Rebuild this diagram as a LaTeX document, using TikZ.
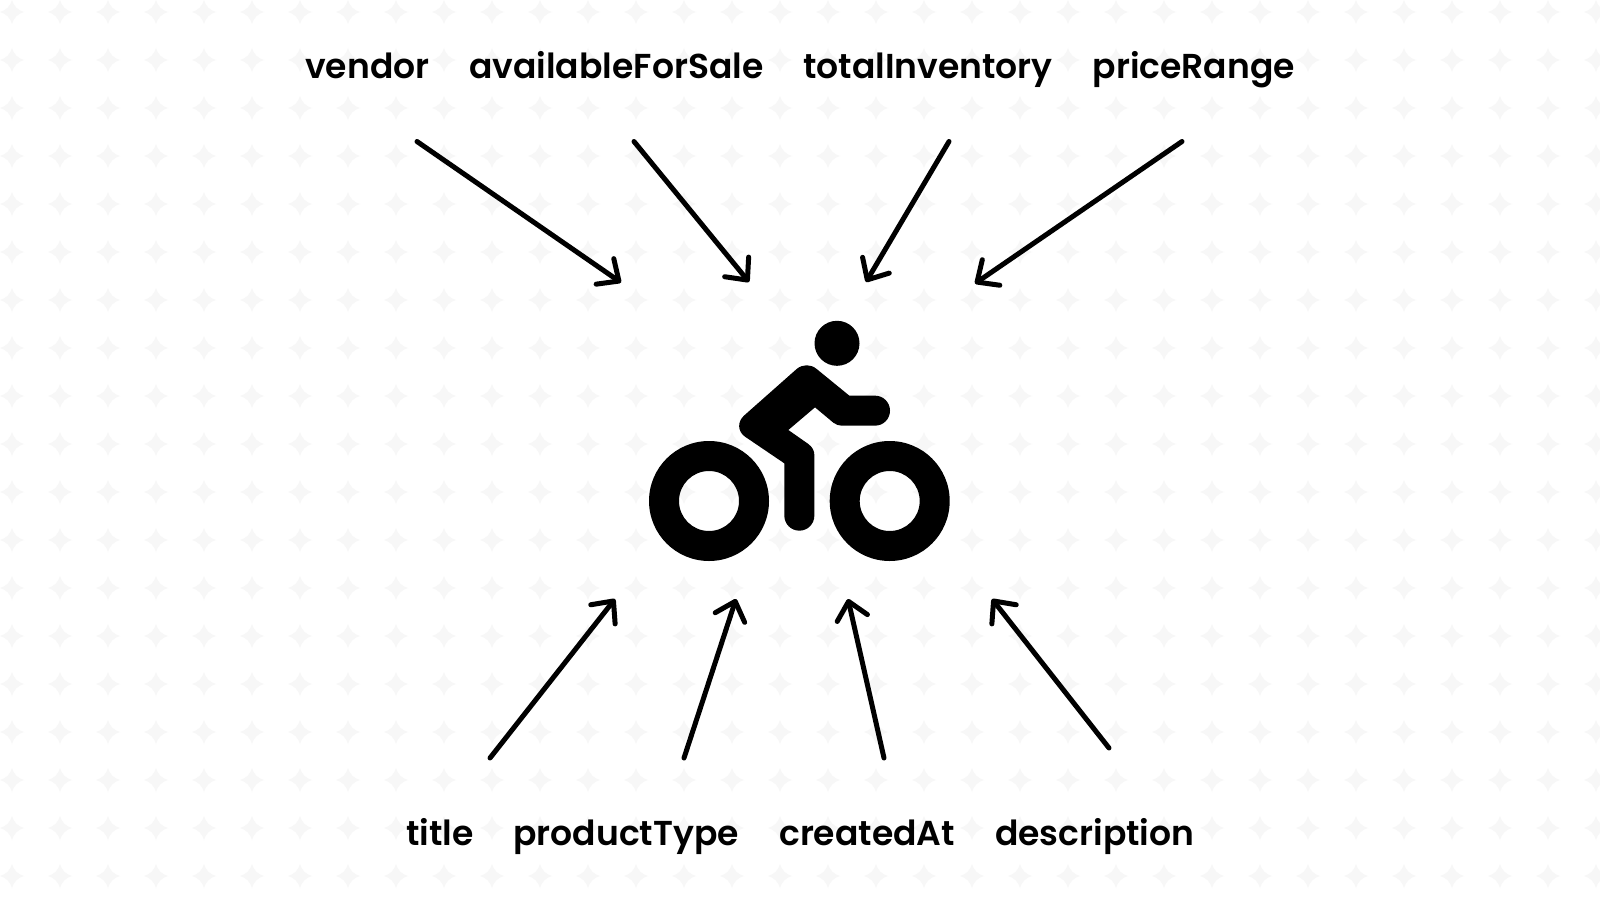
\documentclass[tikz,border=0pt]{standalone}
\usepackage{fontspec}
\setmainfont{Poppins}[BoldFont={Poppins SemiBold}]
\usetikzlibrary{arrows.meta}
\definecolor{starcol}{HTML}{F7F7F7}
\tikzset{
  lbl/.style={anchor=base west,inner sep=0pt,font=\fontsize{34.55}{36}\selectfont\bfseries,text=black},
  arr/.style={draw=black,line width=5pt,line cap=round,-{Straight Barb[round,length=17pt,width=31pt,line width=5pt]}},
  starp/.style={fill=starcol,draw=none},
  ink/.style={fill=black,draw=none}
}
\begin{document}
\begin{tikzpicture}[x=1pt,y=-1pt]
\useasboundingbox (0,0) rectangle (1600,899);
\fill[white] (0,0) rectangle (1600,899);
\foreach \i in {0,...,33}{\foreach \j in {0,...,18}{
  \path[starp,shift={(12+48*\i,12+48*\j)}] (0,-12) .. controls (2.5,-5) and (5,-2.5) .. (12,0) .. controls (5,2.5) and (2.5,5) .. (0,12) .. controls (-2.5,5) and (-5,2.5) .. (-12,0) .. controls (-5,-2.5) and (-2.5,-5) .. (0,-12) -- cycle;
}}
% labels
\node[lbl] (vendor) at (305,78.3) {vendor};
\node[lbl] (afs) at (469,78.3) {availableForSale};
\node[lbl] (ti) at (803,78.3) {totalInventory};
\node[lbl] (pr) at (1092.5,78.3) {priceRange};
\node[lbl] (title) at (406,845) {title};
\node[lbl] (pt) at (513.3,845) {productType};
\node[lbl] (ca) at (779,845) {createdAt};
\node[lbl] (desc) at (995,845) {description};
% free ends
\foreach \n/\x/\y in {a1/417/141.5,b1/621/282.5,a2/634/141.5,b2/749/282,a3/949/141.5,b3/866/282,a4/1182/141.5,b4/975/283.5,
  a5/490/758,b5/615/599,a6/684/758,b6/736/599,a7/884/758,b7/848/599,a8/1109/748,b8/992/599}
  {\coordinate (\n) at (\x,\y);}
\foreach \k in {1,...,8}{\draw[arr] (a\k) -- (b\k);}
% bike
\node[circle,ink,minimum size=45pt,inner sep=0pt] (head) at (837,343.3) {};
\fill[black,even odd rule] (709,501) circle (60) (709,501) circle (30);
\fill[black,even odd rule] (889.7,501) circle (60) (889.7,501) circle (30);
\begin{scope}[shift={(620,300)},x=0.333333pt,y=-0.333333pt]
\fill[black] (530,207) .. controls (548,192) and (572,192) .. (590,207) -- (688,287) -- (765,287)
 .. controls (790,287) and (810,307) .. (810,332) .. controls (810,357) and (790,377) .. (765,377)
 -- (665,377) .. controls (656,377) and (648,374) .. (640,368) -- (585,322) -- (505,390) -- (565,432)
 .. controls (577,441) and (583,452) .. (583,465) -- (583,647)
 .. controls (583,672) and (563,692) .. (538,692) .. controls (513,692) and (493,672) .. (493,647)
 -- (493,490) -- (375,410) .. controls (352,394) and (352,364) .. (373,346) -- cycle;
\end{scope}
\end{tikzpicture}
\end{document}
